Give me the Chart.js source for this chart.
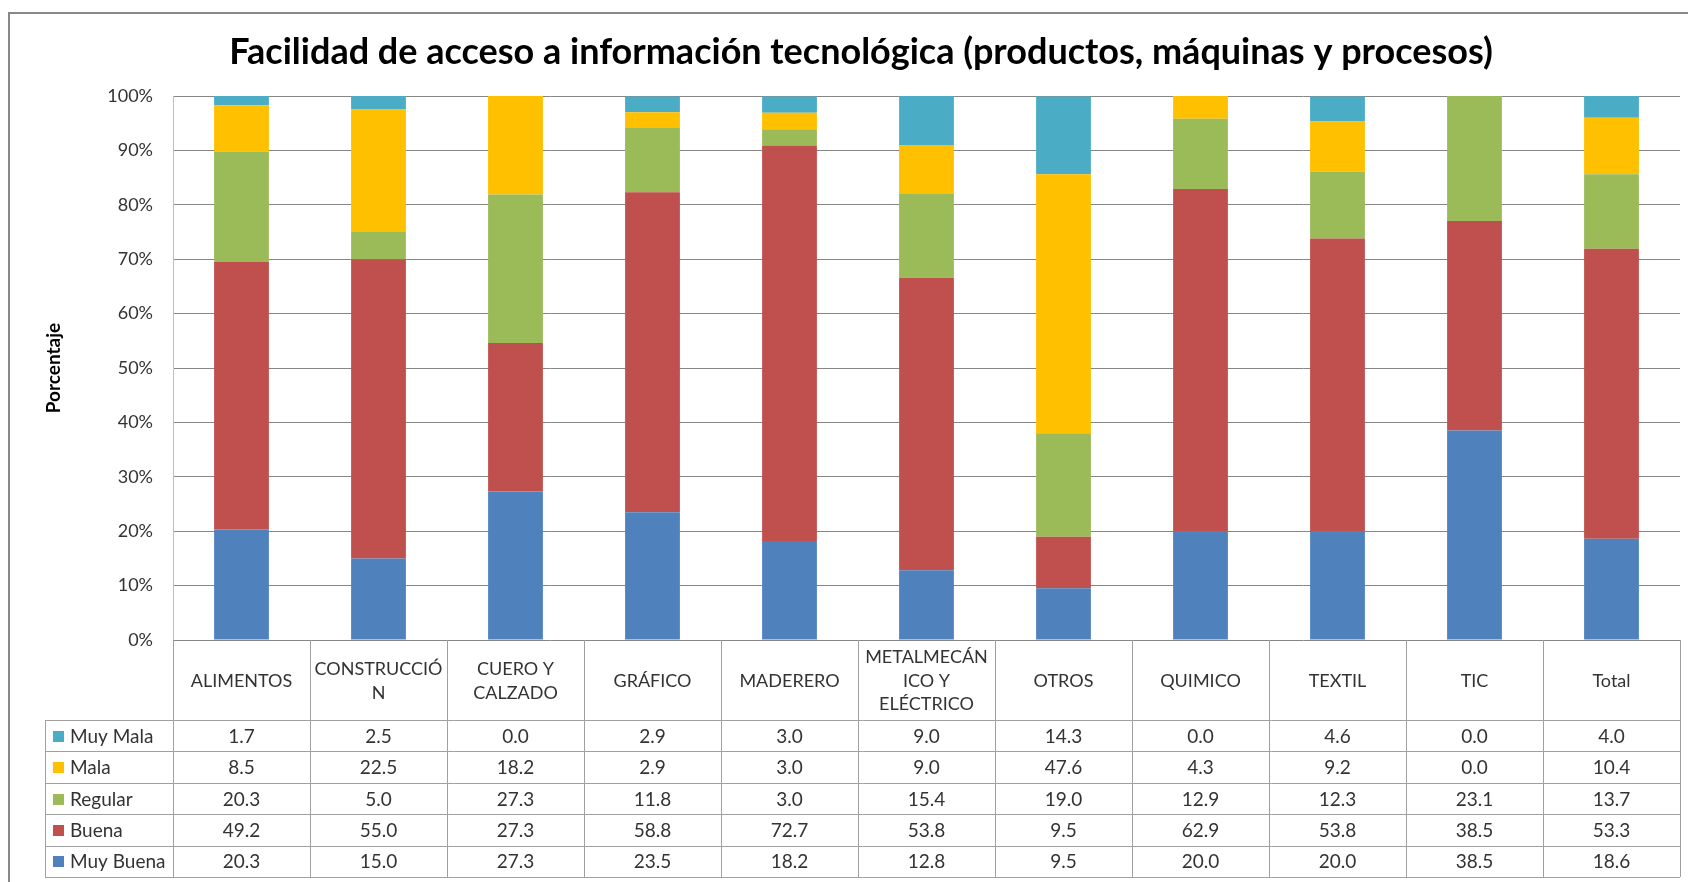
<!DOCTYPE html>
<html>
<head>
<meta charset="utf-8">
<script src="https://cdn.jsdelivr.net/npm/chart.js@4.4.1/dist/chart.umd.min.js"></script>
<style>
  html, body { margin: 0; padding: 0; background: #fff; overflow: hidden; }
  #wrap { width: 1688px; height: 882px; position: relative; }
</style>
</head>
<body>
<div id="wrap"><canvas id="chart" width="1688" height="882"></canvas></div>
<script>
// categories (with the same line breaks as the table header)
const categories = ['ALIMENTOS', 'CONSTRUCCIÓN', 'CUERO Y CALZADO', 'GRÁFICO', 'MADERERO',
  'METALMECÁNICO Y ELÉCTRICO', 'OTROS', 'QUIMICO', 'TEXTIL', 'TIC', 'Total'];
const headerLines = [['ALIMENTOS'], ['CONSTRUCCIÓ', 'N'], ['CUERO Y', 'CALZADO'], ['GRÁFICO'], ['MADERERO'],
  ['METALMECÁN', 'ICO Y', 'ELÉCTRICO'], ['OTROS'], ['QUIMICO'], ['TEXTIL'], ['TIC'], ['Total']];

// series values (percent)
const muyMala  = [1.7, 2.5, 0.0, 2.9, 3.0, 9.0, 14.3, 0.0, 4.6, 0.0, 4.0];
const mala     = [8.5, 22.5, 18.2, 2.9, 3.0, 9.0, 47.6, 4.3, 9.2, 0.0, 10.4];
const regular  = [20.3, 5.0, 27.3, 11.8, 3.0, 15.4, 19.0, 12.9, 12.3, 23.1, 13.7];
const buena    = [49.2, 55.0, 27.3, 58.8, 72.7, 53.8, 9.5, 62.9, 53.8, 38.5, 53.3];
const muyBuena = [20.3, 15.0, 27.3, 23.5, 18.2, 12.8, 9.5, 20.0, 20.0, 38.5, 18.6];

const yTicks = [0, 10, 20, 30, 40, 50, 60, 70, 80, 90, 100];

const FONT = 'Lato, "Open Sans", sans-serif';
const TEXT = '#333333';
const LINE = '#a0a0a0';

// stacked bottom -> top
const datasets = [
  { label: 'Muy Buena', data: muyBuena, backgroundColor: '#4F81BD' },
  { label: 'Buena', data: buena, backgroundColor: '#C0504D' },
  { label: 'Regular', data: regular, backgroundColor: '#9BBB59' },
  { label: 'Mala', data: mala, backgroundColor: '#FFC000' },
  { label: 'Muy Mala', data: muyMala, backgroundColor: '#4BACC6' }
].map(d => Object.assign(d, { barPercentage: 0.4, categoryPercentage: 1.0, borderWidth: 0 }));

// outer frame of the chart object
const framePlugin = {
  id: 'frame',
  beforeDraw(chart) {
    const ctx = chart.ctx;
    ctx.save();
    ctx.strokeStyle = '#888888';
    ctx.lineWidth = 2;
    ctx.strokeRect(9, 13, 1720, 920);
    ctx.restore();
  }
};

// data table under the plot (Excel style), aligned on the x scale
const tablePlugin = {
  id: 'dataTable',
  afterDraw(chart) {
    const ctx = chart.ctx;
    const xs = chart.scales.x;
    const area = chart.chartArea;
    const n = categories.length;
    const colW = xs.width / n;
    const headerH = 80;
    const rowH = 31.4;
    const legendLeft = 45;
    const top = area.bottom;
    const rowsTop = top + headerH;
    const rows = chart.data.datasets.slice().reverse();
    const bottom = rowsTop + rows.length * rowH;

    ctx.save();
    ctx.strokeStyle = LINE;
    ctx.lineWidth = 1;
    ctx.beginPath();
    // vertical lines
    for (let i = 0; i <= n; i++) {
      const x = Math.round(xs.left + i * colW) + 0.5;
      ctx.moveTo(x, top);
      ctx.lineTo(x, bottom);
    }
    ctx.moveTo(legendLeft + 0.5, rowsTop);
    ctx.lineTo(legendLeft + 0.5, bottom);
    // horizontal lines
    for (let r = 0; r <= rows.length; r++) {
      const y = Math.round(rowsTop + r * rowH) + 0.5;
      ctx.moveTo(legendLeft, y);
      ctx.lineTo(xs.right, y);
    }
    ctx.stroke();

    ctx.fillStyle = TEXT;
    ctx.textAlign = 'center';
    ctx.textBaseline = 'middle';
    ctx.font = '18px ' + FONT;
    const lineGap = 23.5;
    headerLines.forEach((lines, i) => {
      const cx = xs.getPixelForValue(i);
      const cy = top + headerH / 2 + 1;
      const y0 = cy - (lines.length - 1) * lineGap / 2;
      lines.forEach((t, k) => ctx.fillText(t, cx, y0 + k * lineGap));
    });

    ctx.font = '19px ' + FONT;
    rows.forEach((ds, r) => {
      const cy = rowsTop + r * rowH + rowH / 2;
      ds.data.forEach((v, i) => {
        ctx.fillText(v.toFixed(1), xs.getPixelForValue(i), cy + 1);
      });
      // legend key + label
      ctx.fillStyle = ds.backgroundColor;
      ctx.fillRect(53, Math.round(cy - 5), 11, 11);
      ctx.fillStyle = TEXT;
      ctx.textAlign = 'left';
      ctx.fillText(ds.label, 70, cy + 1);
      ctx.textAlign = 'center';
    });
    ctx.restore();
  }
};

new Chart(document.getElementById('chart'), {
  type: 'bar',
  data: { labels: categories, datasets },
  options: {
    responsive: false,
    animation: false,
    layout: { padding: { left: 42, right: 8, top: 0, bottom: 242 } },
    plugins: {
      legend: { display: false },
      tooltip: { enabled: false },
      title: {
        display: true,
        text: 'Facilidad de acceso a información tecnológica (productos, máquinas y procesos)',
        color: '#000',
        font: { family: FONT, size: 36, weight: 'bold', lineHeight: 1.2 },
        padding: { top: 31, bottom: 21.8 }
      }
    },
    scales: {
      x: {
        display: false,
        stacked: true
      },
      y: {
        stacked: true,
        min: 0,
        max: 100,
        afterBuildTicks: s => { s.ticks = yTicks.map(v => ({ value: v })); },
        afterFit: s => { s.width = 131; },
        ticks: {
          color: TEXT,
          padding: 20,
          font: { family: FONT, size: 18 },
          callback: v => v + '%'
        },
        grid: { color: '#868686', drawTicks: false },
        border: { color: '#bfbfbf' },
        title: {
          display: true,
          text: 'Porcentaje',
          color: '#000',
          font: { family: FONT, size: 19, weight: 'bold', lineHeight: 1.2 },
          padding: { top: 0, bottom: 0 }
        }
      }
    }
  },
  plugins: [framePlugin, tablePlugin]
});
</script>
</body>
</html>
